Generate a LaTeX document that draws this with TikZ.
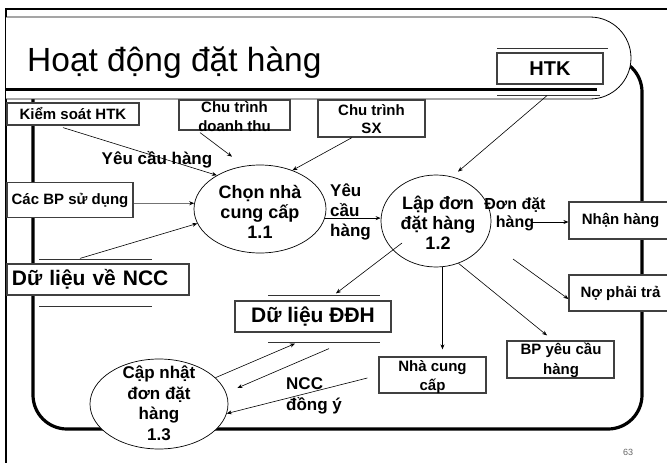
\documentclass[tikz,border=0pt]{standalone}
\usepackage{fontspec}
\setmainfont{Liberation Sans}
\usetikzlibrary{arrows.meta,calc,shapes.geometric}
\newcommand{\fsz}[2]{\fontsize{#1}{#2}\selectfont}

\begin{document}
\begin{tikzpicture}[x=1pt,y=-1pt,
  every node/.style={inner sep=0pt},
  box/.style={draw=black!75, line width=1.2pt, fill=white, rectangle,
    align=center, font=\fsz{15}{19}\bfseries},
  store/.style={box, font=\fsz{21}{25}\bfseries},
  storeline/.style={line width=0.9pt, draw=black!80},
  proc/.style={draw=black, line width=0.7pt, fill=white, ellipse},
  ptext/.style={align=center, font=\fsz{18}{20}\bfseries},
  lbl/.style={align=left, font=\fsz{17}{20}\bfseries},
  flow/.style={line width=0.6pt, -{Stealth[length=5pt,width=4pt,color=black]}},
  frame/.style={line width=3.2pt, draw=black},
]
\useasboundingbox (0,0) rectangle (667,463);
\fill[white] (0,0) rectangle (667,463);

% slide border
\draw[line width=2.4pt] (6,464) -- (6,9) -- (668,9);

% inner rounded frame
\draw[frame, rounded corners=34] (33,58) rectangle (642,429);

% title banner
\fill[white] (6,17) -- (590,17) arc[start angle=-90, end angle=90, radius=41] -- (6,99) -- cycle;
\draw[line width=0.8pt] (6,17) -- (590,17) arc[start angle=-90, end angle=90, radius=41] -- (6,99);
\draw[line width=3pt] (6,89) -- (597,89);
\node[anchor=base west, font=\fsz{33.5}{40}] (title) at (27,71) {Hoạt động đặt hàng};

% HTK data store
\draw[storeline] (497,48) -- (608,48);
\node[store, minimum width=106, minimum height=31, font=\fsz{20}{24}\bfseries] (htk) at (550,68.5) {HTK};
\draw[storeline] (497,95) -- (600,95);

% external entities
\node[box, minimum width=132, minimum height=22] (kiem) at (73,114) {Kiểm soát HTK};
\node[box, minimum width=111, minimum height=30] (ctdt) at (234.5,115) {};
\node[align=center, font=\fsz{15}{19}\bfseries] (ctdtt) at (234.5,117) {Chu trình\\doanh thu};
\node[box, minimum width=107, minimum height=37] (ctsx) at (371.5,118.5) {};
\node[align=center, font=\fsz{15}{18}\bfseries] (ctsxt) at (371.5,119.5) {Chu trình\\SX};
\node[box, minimum width=126, minimum height=35] (cacbp) at (70,200) {Các BP sử dụng};
\node[box, minimum width=103, minimum height=37] (nhan) at (620.5,220.5) {Nhận hàng};
\node[box, minimum width=103, minimum height=36] (notra) at (620.5,293) {Nợ phải trả};
\node[box, minimum width=107, minimum height=37] (bpyc) at (560.5,359.5) {};
\node[align=center, font=\fsz{15}{20}\bfseries] (bpyct) at (561,360.5) {BP yêu cầu\\hàng};
\node[box, minimum width=107, minimum height=36] (nccext) at (432.5,375) {};
\node[align=center, font=\fsz{15}{19}\bfseries] (nccextt) at (432.5,377) {Nhà cung\\cấp};

% data stores
\draw[storeline] (39,259) -- (152,259);
\node[store, minimum width=182, minimum height=31, text width=172, inner xsep=5pt, align=left] (nccbox) at (98,279.5) {Dữ liệu về NCC};
\draw[storeline] (39,306) -- (152,306);
\draw[storeline] (268,295) -- (380,295);
\node[store, minimum width=156, minimum height=31] (ddhbox) at (313,316.5) {Dữ liệu ĐĐH};
\draw[storeline] (268,342) -- (380,342);

% processes
\node[proc, minimum width=132, minimum height=88] (e11) at (260,209) {};
\node[ptext] (t11) at (260,212) {Chọn nhà\\cung cấp\\1.1};
\node[proc, minimum width=110, minimum height=92] (e12) at (436,221) {};
\node[ptext] (t12) at (438,223) {Lập đơn\\đặt hàng\\1.2};
\node[proc, minimum width=138, minimum height=90] (e13) at (159,404) {};
\node[ptext, font=\fsz{17}{20.5}\bfseries] (t13) at (159,403) {Cập nhật\\đơn đặt\\hàng\\1.3};

% flow labels
\node[lbl] (l1) at (157,160) {Yêu cầu hàng};
\node[lbl, anchor=west] (l2) at (330,212) {Yêu\\cầu\\hàng};
\node[align=center, font=\fsz{16}{18}\bfseries] (l3) at (515,214) {Đơn đặt\\hàng};
\node[lbl, anchor=west, font=\fsz{17}{21}\bfseries] (l4) at (286,396) {NCC\\đồng ý};

% data flows
\draw[flow] ($(kiem.south)+(-10,2)$) -- (e11.142);
\draw[flow] ($(ctdt.south)+(-34.5,2)$) -- ($(e11.north)+(-28,-8)$);
\draw[flow] ($(ctsx.south)+(-19.5,0)$) -- (e11.50);
\draw[flow] ($(htk.south)+(-3,11)$) -- ($(e12.north)+(22,-3)$);
\draw[flow, draw=black!55] (cacbp.east |- e11.175) -- (e11.175);
\draw[flow] ($(nccbox.north)+(-18,-5)$) -- (e11.193);
\draw[flow] (e11.-8) -- (e11.-8 -| e12.west);
\draw[flow] ($(nhan.west)+(-36,1.5)$) -- ($(nhan.west)+(0,1.5)$);
\draw[flow] ($(e12.center)+(77,38)$) -- ($(notra.west)+(0,6)$);
\draw[flow] (e12.-62) -- ($(bpyc.north)+(-13.5,-5)$);
\draw[flow] (e12.-82) -- ($(e12.-82 |- nccext.north)+(0,-7)$);
\draw[flow] ($(e12.center)+(-34,22)$) -- ($(ddhbox.north)+(23,-7)$);
\draw[flow] (e13.25) -- ($(ddhbox.south)+(-18,11)$);
\draw[flow] ($(ddhbox.south)+(16,16)$) -- ($(e13.east)+(9,-16)$);
\draw[flow] ($(nccext.west)+(-11,3)$) -- (e13.-8);

% page number
\node[font=\fsz{9}{11}, text=black!60] (pg) at (628,452) {63};
\end{tikzpicture}
\end{document}
